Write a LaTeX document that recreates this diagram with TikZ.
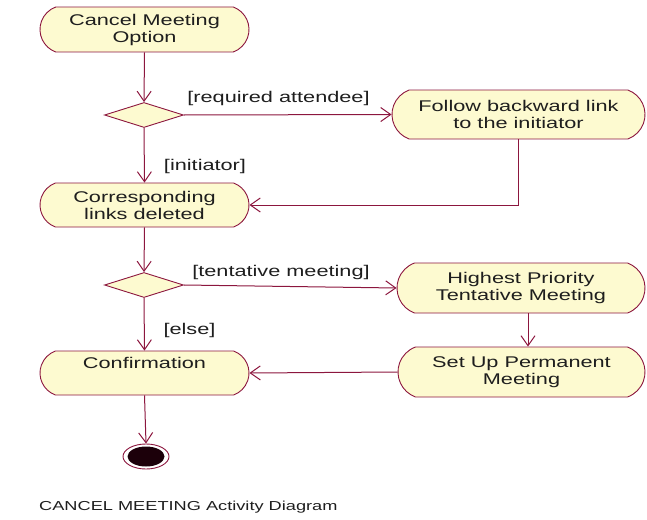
\documentclass[tikz,border=0pt]{standalone}
\usepackage{fontspec}
\setmainfont{Liberation Sans}[FakeStretch=1.4]
\usetikzlibrary{shapes.misc,shapes.geometric,arrows.meta}
\definecolor{umlline}{RGB}{140,22,62}
\definecolor{umlfill}{RGB}{253,250,208}
\definecolor{umltext}{RGB}{30,30,30}
\begin{document}
\begin{tikzpicture}[x=1pt,y=-1pt,
  every node/.style={text=umltext,font=\fontsize{15.5}{17}\selectfont},
  action/.style={rounded rectangle,rounded rectangle arc length=140,
    draw=umlline,fill=umlfill,line width=0.9pt,
    inner sep=0pt,align=center,minimum height=45pt},
  decision/.style={diamond,draw=umlline,fill=umlfill,line width=0.9pt,
    inner sep=0pt,minimum width=79pt,minimum height=25pt},
  flow/.style={draw=umlline,line width=1pt,
    -{Straight Barb[length=10pt,width=14pt,line width=1pt]}},
  guard/.style={inner sep=0pt}]
\useasboundingbox (0,0) rectangle (647,519);

% actions
\node[action,minimum width=209pt] (cancel) at (144.5,29.5) {Cancel Meeting\\Option};
\node[decision] (d1) at (144,115) {};
\node[action,minimum width=253pt,minimum height=49pt] (follow) at (518.5,114.5)
  {Follow backward link\\to the initiator};
\node[action,minimum width=209pt,minimum height=44pt] (links) at (144.5,205)
  {Corresponding\\links deleted};
\node[decision] (d2) at (144,285) {};
\node[action,minimum width=248pt,minimum height=50pt] (highest) at (521,288)
  {Highest Priority\\Tentative Meeting};
\node[action,minimum width=247pt,minimum height=50pt] (setup) at (521.5,372)
  {Set Up Permanent\\Meeting};
\node[action,minimum width=209pt,minimum height=44pt,text height=11pt,text depth=21pt]
  (confirm) at (144.5,373) {Confirmation};

% final state
\node[ellipse,draw=umlline,line width=0.9pt,fill=white,minimum width=46pt,
  minimum height=25pt,inner sep=0pt] (final) at (146,456.5) {};
\node[ellipse,fill={rgb,255:red,28;green,0;blue,10},minimum width=37pt,
  minimum height=20pt,inner sep=0pt] (finaldot) at (final.center) {};

% flows
\draw[flow] (cancel.south) -- (d1.north);
\draw[flow] (d1.east) -- (follow.west);
\draw[flow] (d1.south) -- (links.north);
\draw[flow] (follow.south) |- (links.east);
\draw[flow] (links.south) -- (d2.north);
\draw[flow] (d2.east) -- (highest.west);
\draw[flow] (d2.south) -- (confirm.north);
\draw[flow] ([xshift=7pt]highest.south) -- ([xshift=7pt]highest.south |- setup.north);
\draw[flow] (setup.west) -- (confirm.east);
\draw[flow] (confirm.south) -- (final.north);

% guards
\node[guard] (g1) at (278.5,98.5) {[required attendee]};
\node[guard] (g2) at (205,166) {[initiator]};
\node[guard] (g3) at (281,272.5) {[tentative meeting]};
\node[guard] (g4) at (189.5,330) {[else]};

% caption
\node[anchor=west,inner sep=0pt,font=\fontsize{13}{15}\selectfont] (caption)
  at (39,507) {CANCEL MEETING Activity Diagram};
\end{tikzpicture}
\end{document}
